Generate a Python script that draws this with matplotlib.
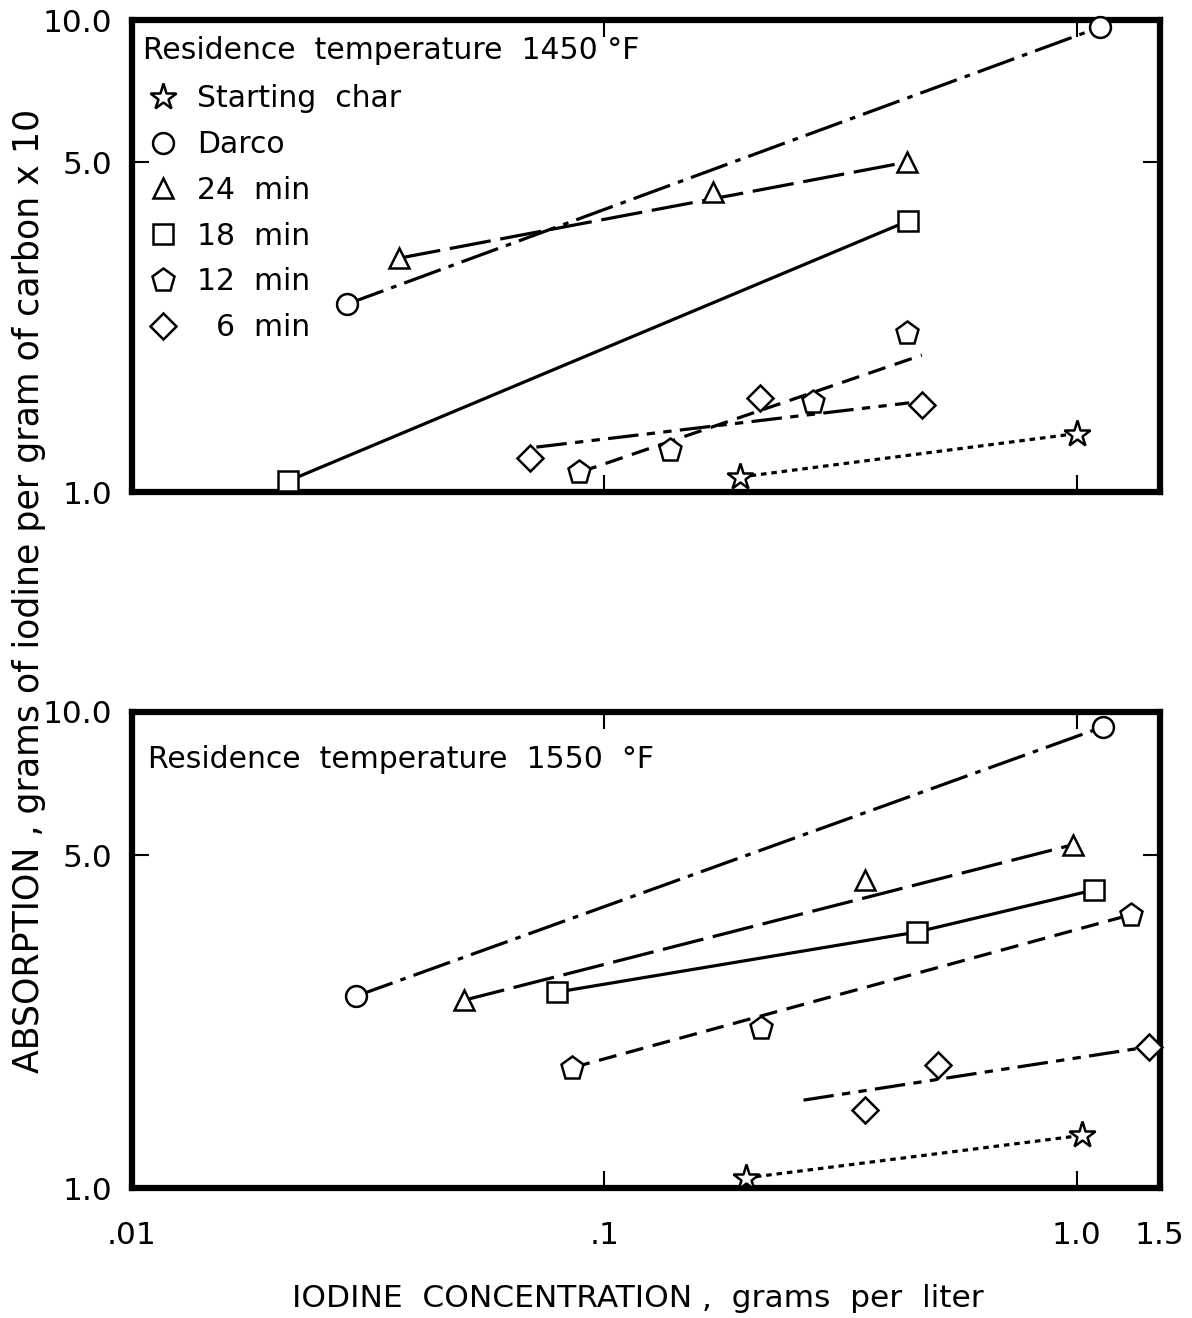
import matplotlib
matplotlib.use("Agg")
import matplotlib.pyplot as plt
from matplotlib.lines import Line2D
import numpy as np

plt.rcParams['font.family'] = ['DejaVu Sans']
plt.rcParams['lines.scale_dashes'] = False

# ---------------- data ----------------
# Top panel: residence temperature 1450 F
t_star_x = [0.194, 1.00];   t_star_y = [1.076, 1.33]
t_darco_x = [0.0285, 1.12]; t_darco_y = [2.50, 9.66]
t_24_x = [0.0368, 0.170, 0.437]; t_24_y = [3.13, 4.32, 5.00]
t_18_x = [0.0214, 0.439];   t_18_y = [1.055, 3.75]
t_12_x = [0.0885, 0.138, 0.277, 0.437]; t_12_y = [1.10, 1.227, 1.55, 2.17]
t_6_x = [0.0696, 0.214, 0.47]; t_6_y = [1.18, 1.58, 1.53]
# fitted lines (end points)
t_12_fit_x = [0.0885, 0.47]; t_12_fit_y = [1.10, 1.95]
t_6_fit_x = [0.0718, 0.442]; t_6_fit_y = [1.245, 1.545]

# Bottom panel: residence temperature 1550 F
b_star_x = [0.199, 1.025];  b_star_y = [1.05, 1.29]
b_darco_x = [0.0298, 1.135]; b_darco_y = [2.53, 9.30]
b_24_x = [0.0504, 0.357, 0.98]; b_24_y = [2.48, 4.44, 5.26]
b_18_x = [0.0794, 0.459, 1.09]; b_18_y = [2.58, 3.45, 4.23]
b_12_x = [0.0855, 0.215, 1.30]; b_12_y = [1.79, 2.17, 3.75]
b_6_x = [0.357, 0.509, 1.42]; b_6_y = [1.46, 1.81, 1.98]
b_6_fit_x = [0.264, 1.42]; b_6_fit_y = [1.53, 1.98]

legend_labels = ["Starting  char", "Darco", "24  min", "18  min", "12  min", "  6  min"]
panel_titles = ["Residence  temperature  1450 \u00b0F", "Residence  temperature  1550  \u00b0F"]
y_ticks = [1.0, 5.0, 10.0]
y_ticklabels = ["1.0", "5.0", "10.0"]
x_ticks = [0.01, 0.1, 1.0, 1.5]
x_ticklabels = [".01", ".1", "1.0", "1.5"]

# ---------------- styles ----------------
LW = 2.3
FS = 21.5
ST = {
    'star':  dict(marker='*', ms=20, ls=(0, (4, 3.5))),
    'darco': dict(marker='o', ms=15, ls=(0, (28, 6, 4, 6))),
    '24':    dict(marker='^', ms=15, ls=(0, (30, 7))),
    '18':    dict(marker='s', ms=14, ls='-'),
    '12':    dict(marker='p', ms=17, ls=(0, (13, 7))),
    '6':     dict(marker='D', ms=13, ls=(0, (22, 6, 6, 6, 6, 6))),
}

fig = plt.figure(figsize=(11.92, 13.18), dpi=100)
ax1 = fig.add_axes([0.1107, 0.6267, 0.8624, 0.3581])
ax2 = fig.add_axes([0.1107, 0.0986, 0.8624, 0.3612])


def mk(ax, x, y, key, fx=None, fy=None):
    s = ST[key]
    lx = x if fx is None else fx
    ly = y if fy is None else fy
    ax.plot(lx, ly, color='black', lw=LW, ls=s['ls'], zorder=2,
            dash_capstyle='butt')
    ax.plot(x, y, ls='none', marker=s['marker'], ms=s['ms'], mfc='white',
            mec='black', mew=1.8, zorder=3, clip_on=False)


# top
mk(ax1, t_star_x, t_star_y, 'star')
mk(ax1, t_darco_x, t_darco_y, 'darco')
mk(ax1, t_24_x, t_24_y, '24', fx=[t_24_x[0], t_24_x[-1]], fy=[t_24_y[0], t_24_y[-1]])
mk(ax1, t_18_x, t_18_y, '18')
mk(ax1, t_12_x, t_12_y, '12', fx=t_12_fit_x, fy=t_12_fit_y)
mk(ax1, t_6_x, t_6_y, '6', fx=t_6_fit_x, fy=t_6_fit_y)

# bottom
mk(ax2, b_star_x, b_star_y, 'star')
mk(ax2, b_darco_x, b_darco_y, 'darco')
mk(ax2, b_24_x, b_24_y, '24', fx=[b_24_x[0], b_24_x[-1]], fy=[b_24_y[0], b_24_y[-1]])
mk(ax2, b_18_x, b_18_y, '18')
mk(ax2, b_12_x, b_12_y, '12', fx=[b_12_x[0], b_12_x[-1]], fy=[b_12_y[0], b_12_y[-1]])
mk(ax2, b_6_x, b_6_y, '6', fx=b_6_fit_x, fy=b_6_fit_y)

for i, ax in enumerate([ax1, ax2]):
    ax.set_xscale('log')
    ax.set_yscale('log')
    ax.set_xlim(0.01, 1.5)
    ax.set_ylim(1.0, 10.0)
    for sp in ax.spines.values():
        sp.set_linewidth(4.5)
    ax.set_yticks(y_ticks)
    ax.set_yticklabels(y_ticklabels, fontsize=22.5)
    ax.set_xticks(x_ticks)
    ax.minorticks_off()
    ax.tick_params(which='both', direction='in', length=12, width=1.5,
                   top=True, right=True, pad=14)
    ax.text(0.011 if i == 0 else 0.016, 0.935 if i == 0 else 0.9,
            panel_titles[i], transform=ax.transAxes, fontsize=FS,
            ha='left', va='center')

ax1.set_xticklabels([])
ax2.set_xticklabels(x_ticklabels, fontsize=22.5)
ax2.tick_params(axis='x', pad=24)
# hide ticks at axis edges
for ax in [ax1, ax2]:
    for t in ax.xaxis.get_major_ticks():
        if abs(t.get_loc() - 1.5) < 1e-6 or abs(t.get_loc() - 0.01) < 1e-6:
            t.tick1line.set_visible(False)
            t.tick2line.set_visible(False)
    for t in ax.yaxis.get_major_ticks():
        if abs(t.get_loc() - 1.0) < 1e-6 or abs(t.get_loc() - 10.0) < 1e-6:
            t.tick1line.set_visible(False)
            t.tick2line.set_visible(False)

# legend in top panel
handles = []
for key in ['star', 'darco', '24', '18', '12', '6']:
    s = ST[key]
    handles.append(Line2D([], [], ls='none', marker=s['marker'], ms=s['ms'],
                          mfc='white', mec='black', mew=1.8))
leg = ax1.legend(handles, legend_labels, loc='upper left',
                 bbox_to_anchor=(-0.005, 0.908), frameon=False, fontsize=FS,
                 handlelength=1.0, handletextpad=0.65, labelspacing=0.56,
                 borderaxespad=0.3)

fig.text(0.024, 0.552, "ABSORPTION , grams of iodine per gram of carbon x 10",
         rotation=90, fontsize=25, ha='center', va='center')
fig.text(0.535, 0.004, "IODINE  CONCENTRATION ,  grams  per  liter",
         fontsize=22.5, ha='center', va='bottom')

fig.savefig("out.png", dpi=100)
